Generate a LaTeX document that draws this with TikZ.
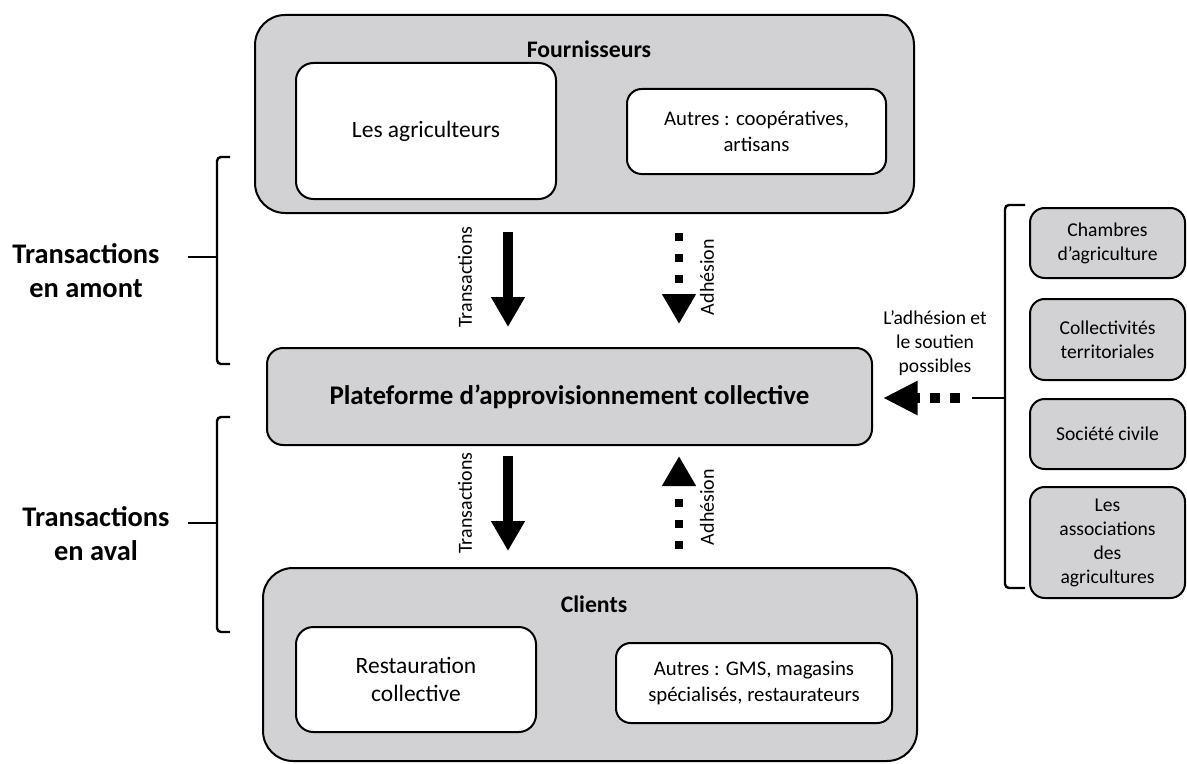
\documentclass[tikz,border=0pt]{standalone}
\usepackage{fontspec}
\setmainfont{Carlito}
\usetikzlibrary{arrows.meta,calc}
\definecolor{boxgray}{RGB}{210,209,211}
\begin{document}
\begin{tikzpicture}[x=0.75pt,y=-0.75pt,
  txt/.style={font=\fontsize{15}{18}\selectfont, align=center},
  bigtxt/.style={font=\fontsize{17.6}{21.5}\selectfont, align=center},
  midtxt/.style={font=\fontsize{15.6}{19}\selectfont, align=center},
  sidetxt/.style={font=\fontsize{14.7}{18}\selectfont, align=center},
  outerbox/.style={draw=black, line width=1.5pt, fill=boxgray, rounded corners=22.5pt, inner sep=0pt},
  innerbox/.style={draw=black, line width=1.5pt, fill=white, rounded corners=13pt, inner sep=0pt},
  platbox/.style={draw=black, line width=1.5pt, fill=boxgray, rounded corners=12pt, inner sep=0pt,
    font=\bfseries\fontsize{20.2}{24}\selectfont},
  sidebox/.style={sidetxt, draw=black, line width=1.5pt, fill=boxgray, rounded corners=11pt, inner sep=0pt,
    minimum width=116.25pt},
  title/.style={font=\bfseries\fontsize{17.8}{21}\selectfont, anchor=base},
  biglabel/.style={font=\bfseries\fontsize{21.3}{25.5}\selectfont, align=center},
  brace/.style={draw=black, line width=1.8pt, rounded corners=3pt},
  tarrow/.style={line width=7.5pt, -{Triangle[width=24pt,length=22.5pt]}},
  darrow/.style={line width=6pt, dash pattern=on 6pt off 9.75pt, -{Triangle[width=24pt,length=22.5pt]}},
  harrow/.style={line width=7.5pt, dash pattern=on 7.5pt off 7.5pt, -{Triangle[width=24pt,length=26pt]}}
]
\useasboundingbox (0,0) rectangle (1187,763);

% outer boxes
\node[outerbox, minimum width=494.25pt, minimum height=148.5pt] (F) at (584.5,114) {};
\node[outerbox, minimum width=490.5pt, minimum height=144.75pt] (C) at (590,664.5) {};
\node[platbox, minimum width=453.75pt, minimum height=72.75pt] (P) at (569.5,396.5) {Plateforme d’approvisionnement collective};

% titles
\node[title] (Ft) at (589,58) {Fournisseurs};
\node[title] (Ct) at (594,612) {Clients};

% inner boxes
\node[innerbox, bigtxt, minimum width=195pt, minimum height=102pt] (LA) at (426,131) {Les agriculteurs};
\node[innerbox, midtxt, rounded corners=11pt, minimum width=194.25pt, minimum height=63.75pt] (AF) at (756.5,131.5) {Autres : coopératives,\\artisans};
\node[innerbox, bigtxt, minimum width=180pt, minimum height=78.75pt] (RC) at (416,679.5) {Restauration\\collective};
\node[innerbox, midtxt, rounded corners=11pt, minimum width=207pt, minimum height=60pt] (AC) at (754,683) {Autres : GMS, magasins\\spécialisés, restaurateurs};

% side boxes
\node[sidebox, minimum height=52.5pt] (S1) at (1107.5,243) {Chambres\\d’agriculture};
\node[sidebox, minimum height=60.75pt] (S2) at (1107.5,339.5) {Collectivités\\territoriales};
\node[sidebox, minimum height=52.5pt] (S3) at (1107.5,434) {Société civile};
\node[sidebox, minimum height=83.25pt] (S4) at (1107.5,542.5) {Les\\associations\\des\\agricultures};

% arrow x positions
\coordinate (xT) at (508,0);
\coordinate (xA) at (679,0);

% upper arrows
\draw[tarrow, shorten <=13.5pt, shorten >=15pt] (F.south -| xT) -- (P.north -| xT);
\draw[darrow, shorten <=14.25pt, shorten >=17.25pt] (F.south -| xA) -- (P.north -| xA);
% lower arrows
\draw[tarrow, shorten <=7.5pt, shorten >=12pt] (P.south -| xT) -- (C.north -| xT);
\draw[darrow, shorten <=13.5pt, shorten >=7.5pt] (C.north -| xA) -- (P.south -| xA);

% arrow labels
\node[txt, rotate=90] (lt1) at (465,277) {Transactions};
\node[txt, rotate=90] (la1) at (707,277) {Adhésion};
\node[txt, rotate=90] (lt2) at (465,503) {Transactions};
\node[txt, rotate=90] (la2) at (707,507) {Adhésion};

% right brace
\coordinate (rb) at (1005,398);
\coordinate (rbt) at (972,398);
\coordinate (hs) at (960,398);
\draw[brace] (1025,205) -- (1005,205) -- (1005,588) -- (1025,588);
\draw[brace] (rbt) -- (rb);
\draw[harrow, shorten >=7.5pt] (hs) -- (P.east |- hs);
\node[sidetxt] (lad) at (935,343) {L’adhésion et\\le soutien\\possibles};

% left braces
\draw[brace] (230,157) -- (217,157) -- (217,364) -- (230,364);
\draw[brace] (188,257) -- (217,257);
\draw[brace] (230,417) -- (217,417) -- (217,632) -- (230,632);
\draw[brace] (188,523) -- (217,523);
\node[biglabel] (Lup) at (86,271) {Transactions\\en amont};
\node[biglabel] (Ldown) at (96,534) {Transactions\\en aval};
\end{tikzpicture}
\end{document}
